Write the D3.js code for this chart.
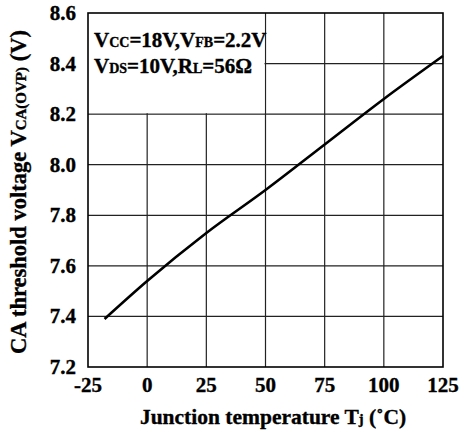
<!DOCTYPE html>
<html>
<head>
<meta charset="utf-8">
<script src="https://cdn.jsdelivr.net/npm/d3@7"></script>
<style>
  body { margin: 0; background: #fff; }
  text { font-family: "Liberation Serif", "Times New Roman", serif; font-weight: bold; fill: #000; stroke: #000; stroke-width: 0.35; }
</style>
</head>
<body>
<div id="chart"></div>
<script>
// junction temperature (C) vs CA threshold voltage (V)
const temps = [-18, 0, 25, 50, 75, 100, 125];
const volts = [7.39, 7.54, 7.73, 7.90, 8.08, 8.26, 8.43];
const xTicks = [-25, 0, 25, 50, 75, 100, 125];
const yTicks = [7.2, 7.4, 7.6, 7.8, 8.0, 8.2, 8.4, 8.6];

const width = 465, height = 435;
const margin = {top: 13, right: 22, bottom: 68, left: 88};

const svg = d3.select('#chart').append('svg')
    .attr('width', width)
    .attr('height', height);

const x = d3.scaleLinear().domain([-25, 125]).range([margin.left, width - margin.right]);
const y = d3.scaleLinear().domain([7.2, 8.6]).range([height - margin.bottom, margin.top]);

// grid
svg.append('g')
  .selectAll('line')
  .data(xTicks.slice(1, -1))
  .join('line')
    .attr('x1', d => x(d)).attr('x2', d => x(d))
    .attr('y1', y(8.6)).attr('y2', y(7.2))
    .attr('stroke', '#222').attr('stroke-width', 1.2);

svg.append('g')
  .selectAll('line')
  .data(yTicks.slice(1, -1))
  .join('line')
    .attr('x1', x(-25)).attr('x2', x(125))
    .attr('y1', d => y(d)).attr('y2', d => y(d))
    .attr('stroke', '#222').attr('stroke-width', 1.2);

// white box behind the conditions text
svg.append('rect')
  .attr('x', x(-25)).attr('y', y(8.6))
  .attr('width', x(50) - x(-25) - 1)
  .attr('height', y(8.2) - y(8.6) - 1)
  .attr('fill', '#fff');

// frame
svg.append('rect')
  .attr('x', x(-25)).attr('y', y(8.6))
  .attr('width', x(125) - x(-25))
  .attr('height', y(7.2) - y(8.6))
  .attr('fill', 'none')
  .attr('stroke', '#000').attr('stroke-width', 1.6);

// curve
const line = d3.line()
  .x((d, i) => x(temps[i]))
  .y(d => y(d))
  .curve(d3.curveMonotoneX);

svg.append('path')
  .datum(volts)
  .attr('d', line)
  .attr('fill', 'none')
  .attr('stroke', '#000')
  .attr('stroke-width', 2.6);

// tick labels
svg.append('g')
  .selectAll('text')
  .data(yTicks)
  .join('text')
    .attr('x', margin.left - 12)
    .attr('y', d => y(d) + 7)
    .attr('text-anchor', 'end')
    .attr('font-size', 21)
    .text(d => d.toFixed(1));

svg.append('g')
  .selectAll('text')
  .data(xTicks)
  .join('text')
    .attr('x', d => x(d))
    .attr('y', 392)
    .attr('text-anchor', 'middle')
    .attr('font-size', 21)
    .text(d => d);

// axis titles
const xt = svg.append('text')
  .attr('x', 273).attr('y', 424)
  .attr('text-anchor', 'middle')
  .attr('font-size', 21.5);
xt.append('tspan').text('Junction temperature T');
xt.append('tspan').attr('font-size', 14.5).text('j');
xt.append('tspan').text(' (˚C)');

const yt = svg.append('text')
  .attr('transform', 'translate(26,192) rotate(-90)')
  .attr('text-anchor', 'middle')
  .attr('font-size', 22.5);
yt.append('tspan').text('CA threshold voltage V');
yt.append('tspan').attr('font-size', 15).text('CA(OVP)');
yt.append('tspan').text(' (V)');

// conditions
const c1 = svg.append('text').attr('x', 94).attr('y', 47).attr('font-size', 21);
c1.append('tspan').text('V');
c1.append('tspan').attr('font-size', 14).text('CC');
c1.append('tspan').text('=18V,V');
c1.append('tspan').attr('font-size', 14).text('FB');
c1.append('tspan').text('=2.2V');

const c2 = svg.append('text').attr('x', 94).attr('y', 73).attr('font-size', 21);
c2.append('tspan').text('V');
c2.append('tspan').attr('font-size', 14).text('DS');
c2.append('tspan').text('=10V,R');
c2.append('tspan').attr('font-size', 14).text('L');
c2.append('tspan').text('=56Ω');
</script>
</body>
</html>
